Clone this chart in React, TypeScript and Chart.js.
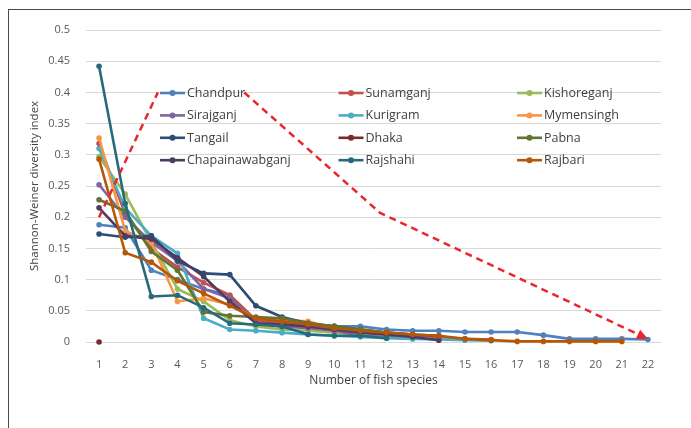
import React, { useEffect, useRef } from "react";
import { Chart, registerables } from "chart.js";

Chart.register(...registerables);

// ---- data ----
const speciesRank = [1, 2, 3, 4, 5, 6, 7, 8, 9, 10, 11, 12, 13, 14, 15, 16, 17, 18, 19, 20, 21, 22];
const yTickValues = [0, 0.05, 0.1, 0.15, 0.2, 0.25, 0.3, 0.35, 0.4, 0.45, 0.5];

const districts = [
  "Chandpur", "Sunamganj", "Kishoreganj",
  "Sirajganj", "Kurigram", "Mymensingh",
  "Tangail", "Dhaka", "Pabna",
  "Chapainawabganj", "Rajshahi", "Rajbari",
];
const districtColors = [
  "#4F81BD", "#C0504D", "#9BBB59",
  "#8064A2", "#4BACC6", "#F79646",
  "#2C4D75", "#772C2A", "#5F7530",
  "#4D3B62", "#276A7C", "#B65708",
];

const chandpur = [0.188, 0.183, 0.115, 0.1, 0.085, 0.075, 0.035, 0.03, 0.028, 0.025, 0.025, 0.02, 0.018, 0.018, 0.016, 0.016, 0.016, 0.011, 0.005, 0.005, 0.005, 0.004];
const sunamganj = [0.318, 0.205, 0.15, 0.12, 0.095, 0.075, 0.035, 0.03, 0.025, 0.02, 0.015, 0.012, 0.01, 0.008, 0.005, 0.004];
const kishoreganj = [0.297, 0.237, 0.16, 0.085, 0.065, 0.035, 0.025, 0.02, 0.018, 0.015, 0.012, 0.01, 0.008];
const sirajganj = [0.252, 0.2, 0.16, 0.13, 0.085, 0.07, 0.03, 0.025, 0.022, 0.018, 0.01, 0.008, 0.006];
const kurigram = [0.31, 0.215, 0.17, 0.142, 0.038, 0.02, 0.018, 0.015, 0.012, 0.01, 0.008, 0.006, 0.005, 0.004, 0.003, 0.002];
const mymensingh = [0.327, 0.178, 0.16, 0.065, 0.07, 0.06, 0.038, 0.035, 0.033, 0.022, 0.018, 0.015];
const tangail = [0.173, 0.168, 0.17, 0.13, 0.11, 0.108, 0.058, 0.04, 0.03, 0.025, 0.02, 0.015, 0.012, 0.01];
const dhaka = [0];
const pabna = [0.228, 0.21, 0.145, 0.115, 0.048, 0.042, 0.04, 0.038, 0.03, 0.025, 0.02, 0.015, 0.012];
const chapainawabganj = [0.215, 0.17, 0.165, 0.135, 0.105, 0.065, 0.03, 0.028, 0.025, 0.02, 0.015, 0.012, 0.008, 0.003];
const rajshahi = [0.442, 0.222, 0.073, 0.075, 0.055, 0.03, 0.028, 0.025, 0.012, 0.01, 0.01, 0.006];
const rajbari = [0.293, 0.143, 0.128, 0.098, 0.078, 0.058, 0.038, 0.033, 0.028, 0.022, 0.018, 0.015, 0.012, 0.01, 0.005, 0.003, 0.001, 0.001, 0.001, 0.001, 0.001];

const seriesValues = [
  chandpur, sunamganj, kishoreganj,
  sirajganj, kurigram, mymensingh,
  tangail, dhaka, pabna,
  chapainawabganj, rajshahi, rajbari,
];

// red dashed trend arrow (gap where it passes the legend)
const trendX = [1, 3.25, 5, 6.55, 11.75, 22];
const trendY = [0.2, 0.4, null, 0.4, 0.207, 0.005];

const FONT = "'Open Sans', 'DejaVu Sans', sans-serif";

const legendPlugin = {
  id: "insideLegend",
  afterDatasetsDraw(chart: any) {
    const { ctx, chartArea } = chart;
    ctx.save();
    ctx.font = `12.5px ${FONT}`;
    ctx.textBaseline = "middle";
    ctx.textAlign = "left";
    districts.forEach((name, i) => {
      const col = i % 3;
      const row = Math.floor(i / 3);
      const x0 = chartArea.left + 74 + col * 178.5;
      const y = chartArea.top + 63 + row * 22.4;
      ctx.strokeStyle = districtColors[i];
      ctx.lineWidth = 2.6;
      ctx.beginPath();
      ctx.moveTo(x0, y);
      ctx.lineTo(x0 + 25, y);
      ctx.stroke();
      ctx.fillStyle = districtColors[i];
      ctx.beginPath();
      ctx.arc(x0 + 12.5, y, 3, 0, Math.PI * 2);
      ctx.fill();
      ctx.fillStyle = "#404040";
      ctx.fillText(name, x0 + 27, y + 0.5);
    });
    ctx.restore();
  },
};

const arrowPlugin = {
  id: "trendArrow",
  afterDatasetsDraw(chart: any) {
    const idx = chart.data.datasets.findIndex((d: any) => d.isTrend);
    if (idx < 0) return;
    const pts = chart.getDatasetMeta(idx).data;
    const a = pts[pts.length - 2];
    const b = pts[pts.length - 1];
    const ang = Math.atan2(b.y - a.y, b.x - a.x);
    const { ctx } = chart;
    const len = 11;
    const half = 5;
    ctx.save();
    ctx.fillStyle = "#E8262B";
    ctx.translate(b.x, b.y);
    ctx.rotate(ang);
    ctx.beginPath();
    ctx.moveTo(0, 0);
    ctx.lineTo(-len, -half);
    ctx.lineTo(-len, half);
    ctx.closePath();
    ctx.fill();
    ctx.restore();
  },
};

export default function App() {
  const canvasRef = useRef<HTMLCanvasElement | null>(null);

  useEffect(() => {
    if (!canvasRef.current) return;
    const datasets: any[] = seriesValues.map((vals, i) => ({
      label: districts[i],
      data: vals.map((v, j) => ({ x: speciesRank[j], y: v })),
      borderColor: districtColors[i],
      backgroundColor: districtColors[i],
      borderWidth: 2.6,
      pointRadius: 2.8,
      pointBorderWidth: 0,
      pointBackgroundColor: districtColors[i],
      tension: 0,
      clip: false,
      order: seriesValues.length - i,
    }));
    datasets.push({
      label: "trend",
      isTrend: true,
      data: trendX.map((x, j) => ({ x, y: trendY[j] })),
      borderColor: "#E8262B",
      borderWidth: 2.5,
      borderDash: [7, 5],
      pointRadius: 0,
      spanGaps: false,
      clip: false,
      order: -10,
    });

    const chart = new Chart(canvasRef.current, {
      type: "line",
      data: { datasets },
      plugins: [legendPlugin, arrowPlugin],
      options: {
        animation: false,
        responsive: false,
        layout: { padding: { left: 0, right: 30, top: 30, bottom: 38 } },
        plugins: { legend: { display: false }, tooltip: { enabled: false } },
        scales: {
          x: {
            type: "linear",
            min: 0.5,
            max: 22.5,
            afterBuildTicks: (s: any) => {
              s.ticks = speciesRank.map((v) => ({ value: v }));
            },
            afterFit: (s: any) => {
              s.height = 48;
            },
            grid: { display: false },
            border: { display: false },
            ticks: {
              autoSkip: false,
              maxRotation: 0,
              padding: 8,
              color: "#595959",
              font: { family: FONT, size: 11 },
              callback: (v: any) => String(v),
            },
            title: {
              display: true,
              text: "Number of fish species",
              color: "#404040",
              font: { family: FONT, size: 12 },
              padding: { top: 0, bottom: 2 },
            },
          },
          y: {
            type: "linear",
            min: 0,
            max: 0.5,
            afterBuildTicks: (s: any) => {
              s.ticks = yTickValues.map((v) => ({ value: v }));
            },
            afterFit: (s: any) => {
              s.width = 86;
            },
            grid: { color: "#D9D9D9", lineWidth: 1, drawTicks: false },
            border: { display: false },
            ticks: {
              padding: 16,
              color: "#595959",
              font: { family: FONT, size: 11 },
              callback: (v: any) => String(Number(Number(v).toFixed(2))),
            },
            title: {
              display: true,
              text: "Shannon-Weiner diversity index",
              color: "#404040",
              font: { family: FONT, size: 11.5 },
              padding: { top: 28, bottom: 0 },
            },
          },
        },
      } as any,
    });
    return () => chart.destroy();
  }, []);

  return (
    <div
      style={{
        position: "fixed",
        left: 0,
        top: 0,
        width: 691,
        height: 428,
        overflow: "hidden",
        background: "#ffffff",
      }}
    >
      <div
        style={{
          position: "absolute",
          left: 8,
          top: 9,
          width: 720,
          height: 460,
          border: "1.5px solid #4a4a4a",
          boxSizing: "border-box",
        }}
      />
      <canvas
        ref={canvasRef}
        width={691}
        height={428}
        style={{ position: "absolute", left: 0, top: 0, width: 691, height: 428 }}
      />
    </div>
  );
}
